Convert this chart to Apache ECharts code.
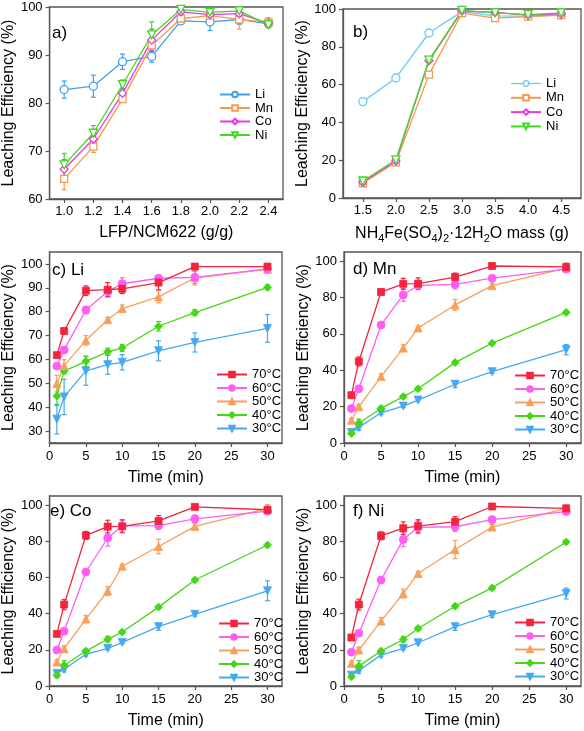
<!DOCTYPE html>
<html><head><meta charset="utf-8">
<script src="https://cdn.jsdelivr.net/npm/echarts@6/dist/echarts.min.js"></script>
<style>html,body{margin:0;padding:0;background:#fff}#c{width:584px;height:731px}</style>
</head><body><div id="c"></div>
<script>
// ---------- data ----------
const aX = [1.0, 1.2, 1.4, 1.6, 1.8, 2.0, 2.2, 2.4];
const aLi = [82.8, 83.5, 88.6, 89.7, 97.1, 96.9, 97.4, 96.5];
const aLiErr = [1.8, 2.3, 1.6, 1.2, 0.6, 1.8, 1.0, 0.5];
const aMn = [64.2, 70.9, 80.8, 92.0, 97.6, 98.2, 97.4, 96.8];
const aMnErr = [2.3, 1.2, 0.6, 0.8, 0.6, 0.8, 2.0, 1.0];
const aCo = [66.2, 72.5, 82.0, 93.1, 99.0, 98.4, 98.6, 96.6];
const aCoErr = [2.0, 1.5, 1.0, 2.3, 0.6, 0.8, 1.0, 0.6];
const aNi = [67.1, 73.7, 83.8, 94.2, 99.5, 98.9, 99.2, 96.3];
const aNiErr = [2.4, 1.6, 1.0, 2.7, 0.6, 0.8, 0.6, 0.6];

const bX = [1.5, 2.0, 2.5, 3.0, 3.5, 4.0, 4.5];
const bLi = [51.0, 63.5, 87.3, 98.6, 96.4, 96.2, 96.8];
const bLiErr = [1.0, 1.8, 1.5, 0.8, 1.0, 1.0, 1.0];
const bMn = [7.8, 18.8, 65.3, 97.8, 95.2, 96.0, 96.8];
const bMnErr = [0.8, 0.8, 0.8, 0.8, 1.0, 0.8, 0.8];
const bCo = [8.3, 19.6, 72.6, 98.9, 98.2, 96.8, 97.4];
const bCoErr = [0.8, 0.8, 0.8, 0.6, 0.6, 0.6, 0.6];
const bNi = [9.0, 20.2, 73.0, 99.3, 98.0, 97.0, 98.0];
const bNiErr = [0.8, 0.8, 0.8, 0.6, 0.6, 0.6, 0.6];

const tX = [1, 2, 5, 8, 10, 15, 20, 30];
const temps = ['70°C', '60°C', '50°C', '40°C', '30°C'];

const c70 = [61.8, 71.9, 88.8, 89.2, 89.6, 92.2, 98.9, 98.9];
const c70Err = [0.8, 1.2, 2.0, 3.0, 2.0, 3.0, 0.6, 0.8];
const c60 = [57.2, 64.0, 80.7, 88.5, 91.7, 94.0, 94.4, 97.9];
const c60Err = [1.0, 1.2, 1.5, 2.0, 2.5, 1.0, 2.5, 0.8];
const c50 = [49.9, 57.4, 68.0, 76.6, 81.3, 86.2, 94.2, 97.7];
const c50Err = [3.5, 2.5, 2.0, 1.0, 1.5, 2.5, 3.0, 1.0];
const c40 = [44.7, 55.1, 59.2, 63.2, 64.8, 73.9, 79.6, 90.2];
const c40Err = [4.0, 1.0, 2.2, 1.5, 1.5, 2.0, 1.2, 1.0];
const c30 = [35.0, 44.3, 55.2, 57.8, 58.8, 63.6, 67.1, 73.0];
const c30Err = [6.2, 7.4, 6.0, 4.0, 3.2, 4.2, 4.0, 5.8];

const d70 = [26.3, 44.8, 83.0, 87.5, 87.6, 91.2, 97.3, 96.8];
const d70Err = [0.6, 2.5, 1.5, 3.0, 3.2, 2.2, 0.6, 2.0];
const d60 = [19.0, 29.8, 64.9, 81.4, 86.7, 87.2, 90.6, 95.6];
const d60Err = [0.8, 1.0, 1.0, 3.5, 1.5, 2.5, 1.2, 1.5];
const d50 = [12.5, 19.9, 36.5, 52.2, 63.2, 75.9, 86.5, 96.2];
const d50Err = [1.0, 1.2, 1.5, 2.0, 1.0, 3.0, 1.2, 1.0];
const d40 = [5.2, 11.0, 19.0, 25.5, 29.8, 44.2, 54.9, 71.8];
const d40Err = [0.8, 2.2, 1.2, 1.0, 1.0, 0.8, 0.6, 0.8];
const d30 = [5.8, 8.5, 16.6, 20.3, 23.6, 32.3, 39.2, 51.3];
const d30Err = [1.0, 1.5, 1.0, 0.8, 0.8, 1.8, 1.0, 2.8];

const e70 = [28.8, 45.0, 83.2, 88.1, 88.2, 91.2, 99.0, 97.4];
const e70Err = [0.8, 2.8, 2.2, 3.5, 3.5, 3.0, 0.6, 1.2];
const e60 = [19.9, 30.3, 63.0, 81.8, 88.5, 88.6, 92.4, 96.6];
const e60Err = [0.6, 1.0, 1.0, 4.5, 3.5, 2.0, 2.0, 1.0];
const e50 = [13.2, 20.6, 37.0, 52.5, 66.2, 77.1, 88.2, 98.2];
const e50Err = [1.2, 1.5, 2.0, 2.5, 1.0, 4.0, 1.5, 2.0];
const e40 = [5.9, 11.5, 19.3, 25.9, 29.8, 43.6, 58.6, 77.9];
const e40Err = [1.2, 2.5, 1.0, 1.5, 0.8, 0.8, 1.0, 1.0];
const e30 = [7.0, 9.3, 17.5, 20.8, 24.1, 32.8, 39.6, 52.6];
const e30Err = [1.0, 1.5, 1.0, 0.8, 0.8, 2.0, 1.0, 5.5];

const f70 = [26.8, 45.0, 83.0, 87.2, 88.4, 90.8, 99.2, 98.2];
const f70Err = [0.6, 3.0, 2.2, 3.5, 3.5, 2.8, 0.6, 1.2];
const f60 = [18.7, 29.2, 58.6, 81.0, 87.7, 88.0, 92.0, 96.4];
const f60Err = [0.8, 1.0, 1.0, 4.0, 3.5, 2.5, 1.0, 1.0];
const f50 = [12.5, 19.9, 35.9, 51.1, 62.2, 75.4, 87.8, 98.2];
const f50Err = [1.0, 1.5, 2.0, 2.5, 1.0, 5.0, 1.5, 1.5];
const f40 = [5.1, 11.0, 19.3, 25.7, 31.8, 44.1, 54.2, 79.6];
const f40Err = [1.0, 3.0, 1.0, 1.5, 1.0, 1.0, 1.0, 1.0];
const f30 = [6.0, 8.5, 17.1, 20.8, 23.9, 32.7, 39.4, 51.1];
const f30Err = [1.0, 1.5, 1.0, 0.8, 0.8, 2.0, 1.5, 3.0];

// tick labels
const aXTicks = [1.0, 1.2, 1.4, 1.6, 1.8, 2.0, 2.2, 2.4];
const bXTicks = [1.5, 2.0, 2.5, 3.0, 3.5, 4.0, 4.5];
const aYTicks = [60, 70, 80, 90, 100];
const bYTicks = [0, 20, 40, 60, 80, 100];
const timeTicks = [0, 5, 10, 15, 20, 25, 30];
const cYTicks = [30, 40, 50, 60, 70, 80, 90, 100];
const effTicks = [0, 20, 40, 60, 80, 100];

// ---------- styling ----------
const FONT = '"Liberation Sans", Arial, sans-serif';
const AX = '#555';
const COL = {Li: '#3fa0ec', LiB: '#66ccf2', Mn: '#f7984f', Co: '#e63ae3', Ni: '#3ddc1f'};
const TCOL = ['#f2243e', '#ff5ef2', '#f89f5b', '#45d616', '#45a8f0'];
const TRI_DOWN = 'path://M0,0L10,0L5,9Z';
const TSYM = ['rect', 'circle', 'triangle', 'diamond', TRI_DOWN];

const chart = echarts.init(document.getElementById('c'), null, {renderer: 'canvas'});

const gridsPos = [
  {left: 48, top: 7, width: 235, height: 192},
  {left: 343, top: 9, width: 238, height: 189},
  {left: 47, top: 252, width: 235, height: 191},
  {left: 344, top: 252, width: 237, height: 191},
  {left: 47, top: 496, width: 235, height: 190},
  {left: 344, top: 496, width: 237, height: 190}
];
const grid = gridsPos.map(g => Object.assign({show: true, borderColor: AX, borderWidth: 1.3, backgroundColor: 'transparent', containLabel: false}, g));

function axisBase(gi, extra) {
  return Object.assign({
    type: 'value', gridIndex: gi,
    axisLine: {show: true, onZero: false, lineStyle: {color: AX, width: 1.3}},
    axisTick: {show: true, inside: false, length: 4, lineStyle: {color: AX, width: 1.2}},
    splitLine: {show: false},
    nameLocation: 'middle',
    nameTextStyle: {color: '#000', fontSize: 16, fontFamily: FONT, fontWeight: 'normal'}
  }, extra);
}
function lab(vals, fmt, margin) {
  return {color: '#000', fontSize: 13, fontFamily: FONT, fontWeight: 'normal', margin: margin, customValues: vals, formatter: fmt, showMinLabel: true, showMaxLabel: true};
}
const fmt1 = v => Number(v).toFixed(1);
const fmt0 = v => String(Math.round(v));

const bName = '{n|NH}{s|4}{n|Fe(SO}{s|4}{n|)}{s|2}{n|·12H}{s|2}{n|O mass (g)}';

const xAxis = [
  axisBase(0, {min: 0.9, max: 2.5, minInterval: 0.2, maxInterval: 0.2, axisTick: {show: true, length: 4, customValues: aXTicks, lineStyle: {color: AX, width: 1.2}}, axisLabel: lab(aXTicks, fmt1, 6), name: 'LFP/NCM622 (g/g)', nameGap: 26}),
  axisBase(1, {min: 1.2, max: 4.8, minInterval: 0.5, maxInterval: 0.5, axisTick: {show: true, length: 4, customValues: bXTicks, lineStyle: {color: AX, width: 1.2}}, axisLabel: lab(bXTicks, fmt1, 6), name: bName, nameGap: 26,
    nameTextStyle: {color: '#000', fontFamily: FONT, fontWeight: 'normal', rich: {n: {fontSize: 16, fontFamily: FONT, fontWeight: 'normal', color: '#000', lineHeight: 20}, s: {fontSize: 11, fontFamily: FONT, fontWeight: 'normal', color: '#000', lineHeight: 11, verticalAlign: 'bottom'}}}}),
];
for (let gi = 2; gi < 6; gi++) {
  xAxis.push(axisBase(gi, {min: 0, max: 32, interval: 5, axisTick: {show: true, length: 4, customValues: timeTicks, lineStyle: {color: AX, width: 1.2}}, axisLabel: lab(timeTicks, fmt0, 7), name: 'Time (min)', nameGap: 27}));
}
const yAxis = [
  axisBase(0, {min: 60, max: 100, interval: 10, axisTick: {show: true, length: 4, customValues: aYTicks, lineStyle: {color: AX, width: 1.2}}, axisLabel: lab(aYTicks, fmt0, 7), name: 'Leaching Efficiency (%)', nameGap: 31}),
  axisBase(1, {min: 0, max: 100, interval: 20, axisTick: {show: true, length: 4, customValues: bYTicks, lineStyle: {color: AX, width: 1.2}}, axisLabel: lab(bYTicks, fmt0, 7), name: 'Leaching Efficiency (%)', nameGap: 26}),
  axisBase(2, {min: 25, max: 105, minInterval: 10, maxInterval: 10, axisTick: {show: true, length: 4, customValues: cYTicks, lineStyle: {color: AX, width: 1.2}}, axisLabel: lab(cYTicks, fmt0, 7), name: 'Leaching Efficiency (%)', nameGap: 29}),
];
for (let gi = 3; gi < 6; gi++) {
  yAxis.push(axisBase(gi, {min: 0, max: 105, minInterval: 20, maxInterval: 20, axisTick: {show: true, length: 4, customValues: effTicks, lineStyle: {color: AX, width: 1.2}}, axisLabel: lab(effTicks, fmt0, 7), name: 'Leaching Efficiency (%)', nameGap: 27}));
}

function lineSeries(name, gi, xs, ys, color, sym, hollow, size) {
  return {
    type: 'line', name: name, xAxisIndex: gi, yAxisIndex: gi,
    data: xs.map((x, i) => [x, ys[i]]),
    symbol: sym, symbolSize: size, showSymbol: true, showAllSymbol: true,
    lineStyle: {color: color, width: 1.3},
    itemStyle: hollow ? {color: '#fff', borderColor: color, borderWidth: 1.3} : {color: color, borderColor: color, borderWidth: 0.8},
    z: 3, emphasis: {disabled: true}, animation: false, clip: false
  };
}
function errSeries(gi, xs, ys, es, color) {
  return {
    type: 'custom', xAxisIndex: gi, yAxisIndex: gi, silent: true, z: 2, animation: false, clip: true,
    encode: {x: 0, y: [1, 2]},
    data: xs.map((x, i) => [x, ys[i] - es[i], ys[i] + es[i]]),
    renderItem: function (params, api) {
      const x = api.value(0);
      const p1 = api.coord([x, api.value(1)]);
      const p2 = api.coord([x, api.value(2)]);
      const w = 2.5;
      const st = {stroke: color, lineWidth: 1.2, fill: null};
      return {type: 'group', children: [
        {type: 'line', shape: {x1: p1[0], y1: p1[1], x2: p2[0], y2: p2[1]}, style: st},
        {type: 'line', shape: {x1: p1[0] - w, y1: p1[1], x2: p1[0] + w, y2: p1[1]}, style: st},
        {type: 'line', shape: {x1: p2[0] - w, y1: p2[1], x2: p2[0] + w, y2: p2[1]}, style: st}
      ]};
    }
  };
}

const series = [];
// panel a
[[aLi, aLiErr, 'Li', 'circle'], [aMn, aMnErr, 'Mn', 'rect'], [aCo, aCoErr, 'Co', 'diamond'], [aNi, aNiErr, 'Ni', TRI_DOWN]].forEach(s => {
  series.push(errSeries(0, aX, s[0], s[1], COL[s[2]]));
  series.push(lineSeries(s[2], 0, aX, s[0], COL[s[2]], s[3], true, s[2] === 'Mn' ? 7 : 8));
});
// panel b
[[bLi, bLiErr, 'Li', 'circle', COL.LiB], [bMn, bMnErr, 'Mn', 'rect', COL.Mn], [bCo, bCoErr, 'Co', 'diamond', COL.Co], [bNi, bNiErr, 'Ni', TRI_DOWN, COL.Ni]].forEach(s => {
  series.push(errSeries(1, bX, s[0], s[1], s[4]));
  series.push(lineSeries(s[2], 1, bX, s[0], s[4], s[3], true, s[2] === 'Mn' ? 7 : 8));
});
// panels c-f
const tPanels = [
  [[c70, c70Err], [c60, c60Err], [c50, c50Err], [c40, c40Err], [c30, c30Err]],
  [[d70, d70Err], [d60, d60Err], [d50, d50Err], [d40, d40Err], [d30, d30Err]],
  [[e70, e70Err], [e60, e60Err], [e50, e50Err], [e40, e40Err], [e30, e30Err]],
  [[f70, f70Err], [f60, f60Err], [f50, f50Err], [f40, f40Err], [f30, f30Err]]
];
tPanels.forEach((panel, pi) => {
  const gi = pi + 2;
  for (let k = 4; k >= 0; k--) {
    series.push(errSeries(gi, tX, panel[k][0], panel[k][1], TCOL[k]));
    series.push(lineSeries(temps[k], gi, tX, panel[k][0], TCOL[k], TSYM[k], false, TSYM[k] === 'rect' ? 7 : 8));
  }
});

function legendCfg(data, left, top, gap) {
  return {data: data, left: left, top: top, orient: 'vertical', itemWidth: 30, itemHeight: 7, itemGap: gap, padding: 0,
    selectedMode: false, textStyle: {fontSize: 13, fontFamily: FONT, fontWeight: 'normal', color: '#000', lineHeight: 13}};
}
const legend = [
  legendCfg(['Li', 'Mn', 'Co', 'Ni'], 219, 88, 0.5),
  legendCfg([{name: 'Li', itemStyle: {color: '#fff', borderColor: COL.LiB, borderWidth: 1.3}, lineStyle: {color: COL.LiB, width: 1.3}}, 'Mn', 'Co', 'Ni'], 510, 77, 1.3),
  legendCfg(temps, 216, 368, 0.5),
  legendCfg(temps, 514, 369, 0.5),
  legendCfg(temps, 218, 617, 0.5),
  legendCfg(temps, 514, 616, 0.5)
];

function lbl(text, x, y) {
  return {type: 'text', x: x, y: y, silent: true, style: {text: text, fontSize: 17, fontFamily: FONT, fontWeight: 'normal', fill: '#000', verticalAlign: 'middle', align: 'left'}};
}
const graphic = [
  lbl('a)', 52, 33), lbl('b)', 353, 32), lbl('c) Li', 52, 270), lbl('d) Mn', 353, 269), lbl('e) Co', 50, 511), lbl('f) Ni', 353, 511)
];

chart.setOption({
  animation: false,
  backgroundColor: '#fff',
  textStyle: {fontFamily: FONT},
  grid: grid, xAxis: xAxis, yAxis: yAxis, series: series, legend: legend, graphic: graphic
});
</script>
</body></html>
